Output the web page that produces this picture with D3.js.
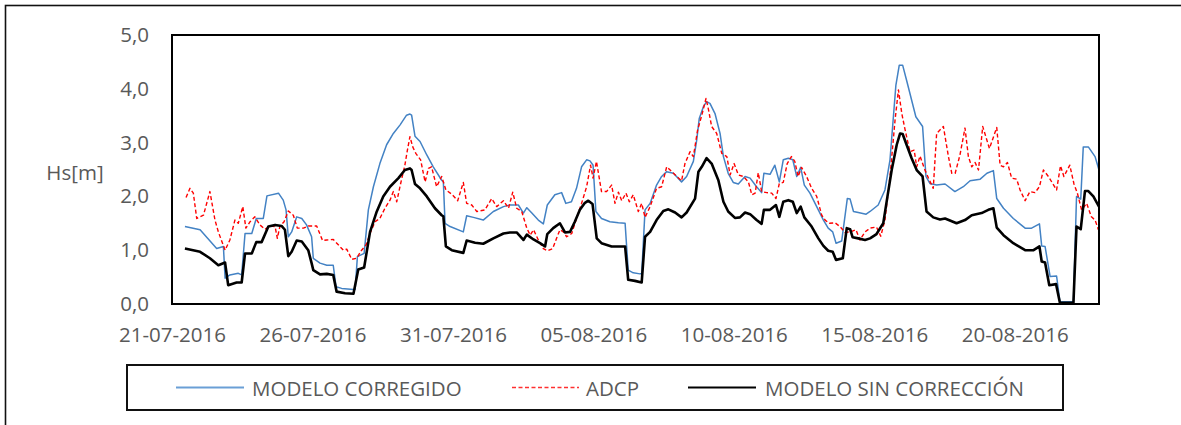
<!DOCTYPE html>
<html><head><meta charset="utf-8">
<script src="https://cdn.jsdelivr.net/npm/d3@7"></script>
<style>
html,body{margin:0;padding:0;background:#fff;}
svg{display:block;}
text{font-family:"Open Sans",sans-serif;fill:#595959;}
</style></head>
<body>
<script>
// ---- DATA (day offset from 21-07-2016, Hs in m) ----
const startDate = "2016-07-21";
const endDate = "2016-08-23";
const xTickLabels = ["21-07-2016","26-07-2016","31-07-2016","05-08-2016","10-08-2016","15-08-2016","20-08-2016"];
const yTicks = [0,1,2,3,4,5];
const seriesNames = ["MODELO CORREGIDO","ADCP","MODELO SIN CORRECCIÓN"];

const modeloCorregido = [[0.46,1.44],[1.0,1.38],[1.59,1.03],[1.83,1.07],[1.89,0.48],[2.06,0.54],[2.36,0.57],[2.48,0.54],[2.6,1.31],[2.84,1.31],[3.0,1.59],[3.25,1.59],[3.38,2.01],[3.79,2.06],[3.96,1.93],[4.06,1.75],[4.14,1.25],[4.26,1.34],[4.44,1.62],[4.62,1.59],[4.79,1.47],[4.97,1.25],[5.03,0.85],[5.27,0.76],[5.51,0.72],[5.74,0.72],[5.84,0.32],[6.04,0.29],[6.46,0.27],[6.52,0.27],[6.6,0.88],[6.84,0.94],[6.99,1.75],[7.17,2.18],[7.40,2.61],[7.64,2.96],[7.88,3.17],[8.12,3.33],[8.35,3.51],[8.47,3.53],[8.53,3.51],[8.65,3.12],[8.83,3.02],[9.07,2.77],[9.30,2.55],[9.60,2.30],[9.66,2.27],[9.72,1.50],[9.90,1.44],[10.37,1.34],[10.49,1.64],[10.73,1.61],[11.08,1.56],[11.44,1.72],[11.80,1.81],[12.03,1.84],[12.33,1.84],[12.51,1.69],[12.63,1.79],[12.81,1.69],[13.04,1.56],[13.22,1.49],[13.36,1.84],[13.63,2.03],[13.87,2.07],[14.02,1.87],[14.22,1.90],[14.40,2.15],[14.58,2.55],[14.76,2.68],[14.88,2.66],[14.99,2.58],[15.09,1.72],[15.29,1.59],[15.59,1.53],[15.89,1.51],[16.13,1.50],[16.24,0.63],[16.42,0.58],[16.66,0.56],[16.72,0.56],[16.84,1.75],[17.02,1.87],[17.25,2.21],[17.43,2.37],[17.61,2.46],[17.85,2.43],[18.14,2.27],[18.32,2.37],[18.56,2.65],[18.68,3.05],[18.77,3.45],[18.92,3.67],[19.03,3.76],[19.15,3.73],[19.33,3.54],[19.51,3.17],[19.63,2.74],[19.80,2.43],[19.98,2.26],[20.16,2.23],[20.40,2.37],[20.58,2.34],[20.81,2.18],[20.99,2.07],[21.07,2.43],[21.29,2.41],[21.46,2.58],[21.62,2.27],[21.76,2.68],[21.94,2.71],[22.10,2.68],[22.24,2.37],[22.38,2.54],[22.51,2.21],[22.71,2.06],[22.95,1.81],[23.19,1.56],[23.36,1.41],[23.52,1.34],[23.64,1.13],[23.84,1.17],[24.04,1.96],[24.14,1.95],[24.26,1.72],[24.43,1.70],[24.71,1.67],[24.85,1.72],[25.14,1.84],[25.38,2.12],[25.56,2.68],[25.77,4.07],[25.89,4.44],[26.01,4.44],[26.15,4.16],[26.48,3.48],[26.72,3.30],[26.84,2.37],[26.98,2.24],[27.22,2.21],[27.52,2.23],[27.87,2.09],[28.17,2.18],[28.41,2.29],[28.77,2.32],[29.01,2.43],[29.24,2.48],[29.36,1.96],[29.60,1.78],[29.95,1.59],[30.37,1.41],[30.60,1.41],[30.88,1.49],[30.96,1.08],[31.08,1.07],[31.26,0.51],[31.49,0.52],[31.61,0.04],[32.09,0.04],[32.20,2.00],[32.35,1.95],[32.44,2.92],[32.62,2.92],[32.86,2.74],[33.0,2.49]];

const adcp = [[0.50,1.98],[0.64,2.15],[0.76,2.06],[0.88,1.59],[1.12,1.65],[1.35,2.09],[1.53,1.56],[1.65,1.34],[1.89,1.00],[2.06,1.19],[2.24,1.56],[2.36,1.50],[2.52,1.81],[2.63,1.41],[2.78,1.53],[2.95,1.62],[3.13,1.47],[3.31,1.39],[3.49,1.45],[3.67,1.44],[3.75,1.22],[3.84,1.44],[3.99,1.53],[4.14,1.73],[4.32,1.65],[4.46,1.41],[4.68,1.41],[4.85,1.45],[5.15,1.45],[5.36,1.18],[5.51,1.19],[5.74,1.20],[5.92,1.10],[6.10,1.00],[6.22,1.02],[6.40,0.83],[6.57,0.85],[6.75,1.00],[6.91,1.10],[7.05,1.31],[7.23,1.53],[7.40,1.59],[7.58,1.78],[7.76,1.93],[7.88,2.09],[8.00,1.90],[8.14,2.24],[8.29,2.58],[8.38,2.86],[8.47,3.11],[8.57,2.92],[8.68,2.80],[8.85,2.68],[9.01,2.27],[9.13,2.52],[9.24,2.55],[9.42,2.18],[9.60,2.37],[9.75,2.12],[9.96,2.04],[10.17,1.92],[10.37,2.26],[10.49,1.87],[10.67,1.84],[10.85,1.72],[11.14,1.75],[11.38,1.96],[11.56,1.81],[11.80,1.92],[11.98,1.78],[12.13,2.08],[12.27,1.78],[12.45,1.72],[12.63,1.41],[12.75,1.28],[12.87,1.38],[13.04,1.19],[13.22,1.03],[13.36,0.99],[13.55,1.03],[13.69,1.22],[13.81,1.38],[13.93,1.34],[14.05,1.25],[14.23,1.31],[14.40,1.59],[14.58,1.87],[14.76,2.18],[14.90,2.58],[14.99,2.34],[15.11,2.65],[15.29,2.09],[15.47,2.09],[15.65,2.21],[15.77,1.87],[15.89,2.08],[16.01,1.92],[16.16,2.06],[16.28,1.90],[16.42,2.03],[16.60,1.72],[16.72,1.87],[16.84,1.61],[17.02,1.81],[17.25,2.15],[17.43,2.18],[17.61,2.55],[17.79,2.46],[17.97,2.37],[18.14,2.29],[18.26,2.61],[18.44,2.83],[18.56,2.74],[18.71,3.23],[18.86,3.51],[19.01,3.82],[19.10,3.61],[19.21,3.30],[19.39,3.17],[19.57,2.80],[19.75,2.74],[19.87,2.40],[20.01,2.61],[20.16,2.40],[20.34,2.37],[20.52,2.27],[20.64,2.03],[20.76,2.06],[20.87,2.44],[20.99,2.09],[21.17,2.07],[21.35,2.06],[21.50,1.96],[21.62,2.24],[21.76,2.26],[21.90,2.61],[22.05,2.74],[22.17,2.65],[22.29,2.37],[22.41,2.54],[22.59,2.37],[22.77,2.15],[22.95,2.00],[23.13,1.65],[23.25,1.56],[23.40,1.50],[23.60,1.51],[23.78,1.44],[23.96,1.33],[24.14,1.34],[24.35,1.38],[24.49,1.19],[24.67,1.34],[24.85,1.41],[25.08,1.43],[25.23,1.26],[25.38,1.56],[25.56,2.37],[25.74,3.42],[25.86,3.98],[25.98,3.54],[26.10,3.23],[26.27,2.83],[26.42,2.86],[26.51,2.55],[26.63,2.75],[26.78,2.52],[26.93,2.34],[27.10,2.15],[27.22,3.17],[27.46,3.30],[27.64,2.74],[27.76,2.43],[27.88,2.43],[28.05,2.77],[28.23,3.27],[28.35,2.74],[28.47,2.55],[28.59,2.63],[28.71,2.49],[28.86,3.30],[29.10,2.89],[29.36,3.28],[29.48,2.58],[29.60,2.55],[29.74,2.63],[29.89,2.34],[30.07,2.32],[30.19,2.12],[30.37,1.92],[30.54,2.09],[30.72,2.07],[30.88,2.18],[31.02,2.49],[31.20,2.37],[31.49,2.12],[31.63,2.57],[31.75,2.37],[31.96,2.58],[32.11,2.23],[32.23,2.06],[32.38,1.75],[32.56,1.87],[32.73,1.62],[32.86,1.56],[32.98,1.38]];

const modeloSinCorreccion = [[0.46,1.03],[1.0,0.97],[1.35,0.85],[1.65,0.72],[1.89,0.77],[2.0,0.35],[2.30,0.40],[2.48,0.40],[2.6,0.94],[2.84,0.94],[3.0,1.15],[3.19,1.15],[3.43,1.44],[3.67,1.47],[3.90,1.45],[4.02,1.38],[4.14,0.89],[4.26,0.97],[4.44,1.18],[4.62,1.16],[4.85,1.00],[4.97,0.76],[5.03,0.63],[5.27,0.55],[5.51,0.56],[5.74,0.54],[5.86,0.23],[6.16,0.20],[6.46,0.19],[6.63,0.64],[6.84,0.68],[7.05,1.34],[7.29,1.72],[7.52,2.00],[7.76,2.18],[8.06,2.34],[8.29,2.49],[8.47,2.52],[8.53,2.49],[8.65,2.23],[8.83,2.15],[9.07,2.00],[9.36,1.78],[9.60,1.65],[9.66,1.63],[9.75,1.07],[9.96,1.00],[10.37,0.95],[10.49,1.18],[10.79,1.14],[11.08,1.12],[11.44,1.22],[11.80,1.31],[12.03,1.33],[12.27,1.33],[12.51,1.19],[12.63,1.29],[12.87,1.20],[13.10,1.13],[13.28,1.07],[13.36,1.30],[13.57,1.41],[13.81,1.50],[13.99,1.33],[14.17,1.34],[14.34,1.53],[14.52,1.75],[14.70,1.88],[14.82,1.92],[14.97,1.86],[15.12,1.22],[15.29,1.13],[15.65,1.07],[16.13,1.07],[16.24,0.45],[16.48,0.43],[16.72,0.40],[16.84,1.25],[17.02,1.34],[17.25,1.56],[17.49,1.73],[17.67,1.76],[17.91,1.70],[18.14,1.61],[18.32,1.70],[18.62,1.96],[18.74,2.46],[18.86,2.55],[19.03,2.71],[19.21,2.61],[19.45,2.30],[19.63,1.90],[19.80,1.72],[20.04,1.60],[20.22,1.61],[20.40,1.70],[20.58,1.67],[20.81,1.56],[20.99,1.49],[21.07,1.75],[21.29,1.75],[21.50,1.84],[21.62,1.62],[21.76,1.90],[21.94,1.93],[22.10,1.90],[22.24,1.69],[22.38,1.81],[22.51,1.61],[22.77,1.44],[23.01,1.22],[23.19,1.08],[23.36,0.99],[23.52,0.97],[23.64,0.82],[23.88,0.85],[24.02,1.41],[24.14,1.39],[24.23,1.24],[24.43,1.22],[24.67,1.19],[24.85,1.22],[25.08,1.30],[25.32,1.50],[25.47,2.00],[25.62,2.49],[25.80,2.96],[25.92,3.17],[26.01,3.16],[26.15,2.96],[26.33,2.71],[26.51,2.49],[26.72,2.37],[26.86,1.72],[27.10,1.61],[27.34,1.57],[27.52,1.59],[27.93,1.50],[28.23,1.56],[28.47,1.65],[28.82,1.69],[29.06,1.75],[29.24,1.78],[29.36,1.42],[29.60,1.28],[29.95,1.13],[30.37,1.00],[30.67,1.00],[30.88,1.07],[30.96,0.79],[31.08,0.77],[31.23,0.35],[31.47,0.37],[31.61,0.02],[32.09,0.02],[32.20,1.44],[32.35,1.39],[32.50,2.10],[32.62,2.10],[32.80,2.00],[33.0,1.81]];

// ---- LAYOUT ----
const W = 1181, H = 425;
const plot = {left:172, top:35, right:1099, bottom:304};
const fontSize = 20.5;

const svg = d3.select("body").append("svg").attr("width", W).attr("height", H);

// outer chart border (extends past the image bottom/right)
svg.append("rect").attr("x",5.5).attr("y",5.5).attr("width",W+20).attr("height",H+20)
  .attr("fill","none").attr("stroke","#111").attr("stroke-width",1.6);

const parse = d3.utcParse("%Y-%m-%d");
const t0 = parse(startDate), t1 = parse(endDate);
const toDate = d => new Date(t0.getTime() + d*86400000);

const x = d3.scaleUtc().domain([t0, t1]).range([plot.left, plot.right]);
const y = d3.scaleLinear().domain([0, 5]).range([plot.bottom, plot.top]);

const locale = d3.formatLocale({decimal:",", thousands:".", grouping:[3], currency:["","€"]});
const fmtY = locale.format(".1f");
const fmtX = d3.utcFormat("%d-%m-%Y");

// y axis labels
const yAxis = d3.axisLeft(y).tickValues(yTicks).tickFormat(fmtY).tickSize(0).tickPadding(23);
const gy = svg.append("g").attr("transform",`translate(${plot.left},0)`).call(yAxis);
gy.select(".domain").remove();
gy.selectAll("text").attr("font-size",fontSize).attr("font-family","Open Sans").attr("fill","#595959");

// x axis labels
const xTickDates = xTickLabels.map(s => { const [dd,mm,yy] = s.split("-"); return parse(`${yy}-${mm}-${dd}`); });
const xAxis = d3.axisBottom(x).tickValues(xTickDates).tickFormat(fmtX).tickSize(0).tickPadding(23);
const gx = svg.append("g").attr("transform",`translate(0,${plot.bottom})`).call(xAxis);
gx.select(".domain").remove();
gx.selectAll("text").attr("font-size",fontSize).attr("font-family","Open Sans").attr("fill","#595959");

// y axis title
svg.append("text").attr("x",75).attr("y",172).attr("text-anchor","middle").attr("dominant-baseline","central")
  .attr("font-size",fontSize).text("Hs[m]");

// lines
const line = d3.line().x(d => x(toDate(d[0]))).y(d => y(d[1]));
svg.append("clipPath").attr("id","clip").append("rect")
  .attr("x",plot.left).attr("y",plot.top-10).attr("width",plot.right-plot.left).attr("height",plot.bottom-plot.top+10);
const gl = svg.append("g").attr("clip-path","url(#clip)");

const styles = [
  {data: modeloCorregido, color:"#4382c4", width:1.5, dash:null},
  {data: adcp, color:"#ff0000", width:1.4, dash:"4,2.5"},
  {data: modeloSinCorreccion, color:"#000000", width:2.6, dash:null}
];
const legendColors = ["#6a9fd6","#ff3030","#000000"];
styles.forEach(s => {
  gl.append("path").datum(s.data).attr("d", line).attr("fill","none")
    .attr("stroke", s.color).attr("stroke-width", s.width)
    .attr("stroke-dasharray", s.dash).attr("stroke-linejoin","round");
});

// plot frame
svg.append("rect").attr("x",plot.left).attr("y",plot.top)
  .attr("width",plot.right-plot.left).attr("height",plot.bottom-plot.top)
  .attr("fill","none").attr("stroke","#000").attr("stroke-width",2);

// legend
const leg = {left:127, top:365, right:1063, bottom:410};
svg.append("rect").attr("x",leg.left).attr("y",leg.top).attr("width",leg.right-leg.left).attr("height",leg.bottom-leg.top)
  .attr("fill","#fff").attr("stroke","#111").attr("stroke-width",2);
const legItems = [
  {x1:176, x2:244, tx:252},
  {x1:512, x2:579, tx:586},
  {x1:688, x2:756, tx:765}
];
const ly = (leg.top+leg.bottom)/2;
legItems.forEach((it,i) => {
  svg.append("line").attr("x1",it.x1).attr("x2",it.x2).attr("y1",ly).attr("y2",ly)
    .attr("stroke",legendColors[i]).attr("stroke-width", i===2?2.2:(i===1?1.4:2))
    .attr("stroke-dasharray", styles[i].dash);
  svg.append("text").attr("x",it.tx).attr("y",ly).attr("dominant-baseline","central")
    .attr("font-size",fontSize).text(seriesNames[i]);
});
</script>
</body></html>
